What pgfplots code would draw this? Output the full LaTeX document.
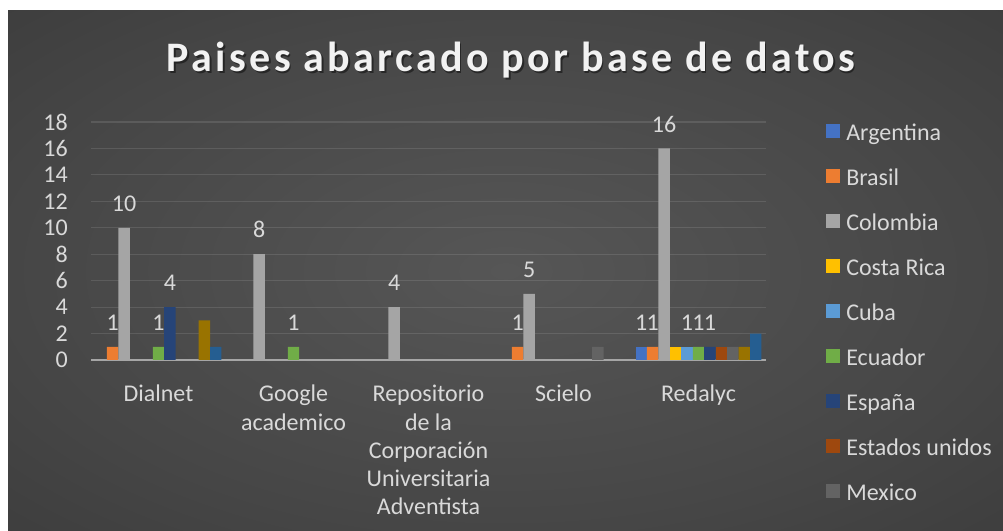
\documentclass[border=0pt]{standalone}
\usepackage{pgfplots}
\pgfplotsset{compat=1.18}
\usepackage{fontspec}
\setmainfont{Carlito}
\newfontfamily\titlefont[LetterSpace=8]{Carlito}
\definecolor{bgin}{RGB}{86,86,86}
\definecolor{bgmid}{RGB}{70,70,70}
\definecolor{bgout}{RGB}{36,36,36}
\definecolor{txt}{RGB}{217,217,217}
\definecolor{axl}{RGB}{166,166,166}
\definecolor{cArg}{HTML}{4472C4}
\definecolor{cBra}{HTML}{ED7D31}
\definecolor{cCol}{HTML}{A5A5A5}
\definecolor{cCR}{HTML}{FFC000}
\definecolor{cCub}{HTML}{5B9BD5}
\definecolor{cEcu}{HTML}{70AD47}
\definecolor{cEsp}{HTML}{264478}
\definecolor{cEEU}{HTML}{9E480E}
\definecolor{cMex}{HTML}{636363}
\definecolor{cS10}{HTML}{997300}
\definecolor{cS11}{HTML}{255E91}
\pgfdeclareradialshading{bgshade}{\pgfpoint{0bp}{0bp}}{color(0bp)=(bgin); color(25bp)=(bgmid); color(71bp)=(bgout)}
\begin{document}
\begin{tikzpicture}[x=1bp,y=1bp]
\useasboundingbox (0,0) rectangle (1003,531);
\fill[white] (0,0) rectangle (1003,531);
\shade[shading=bgshade] (8,0) rectangle (1003,520);
\node[anchor=base, font=\titlefont\bfseries\fontsize{42bp}{50bp}\selectfont, text=black, opacity=0.45] at (512.5bp,457.5bp) {Paises abarcado por base de datos};
\node[anchor=base, font=\titlefont\bfseries\fontsize{42bp}{50bp}\selectfont, text=white!95!black] at (511bp,459bp) {Paises abarcado por base de datos};
\begin{axis}[
  at={(91bp,171bp)}, anchor=south west, scale only axis,
  width=675bp, height=238bp,
  xmin=-0.5, xmax=4.5, ymin=0, ymax=18,
  ytick={0,2,...,18}, xtick={0,1,2,3,4},
  xticklabels={Dialnet, {Google\\academico}, {Repositorio\\de la\\Corporación\\Universitaria\\Adventista}, Scielo, Redalyc},
  /pgf/number format/assume math mode=true,
  ybar=0pt, bar width=11.45bp,
  axis lines*=left,
  x axis line style={draw=axl, line width=1.8bp, -},
  y axis line style={draw=none},
  major tick length=0pt,
  ymajorgrids, grid style={draw=white, opacity=0.11, line width=1.2bp},
  ticklabel style={font=\fontsize{24bp}{28.3bp}\selectfont, text=txt, inner sep=0pt},
  xticklabel style={align=center, anchor=north, yshift=-25bp},
  yticklabel style={anchor=east, xshift=-23bp},
  clip=false,
  legend style={at={(1.089,0.993)}, anchor=north west, draw=none, fill=none, inner sep=0pt,
    cells={anchor=west}, row sep=22.95bp,
    nodes={inner sep=0pt, text height=17bp, text depth=5bp, font=\fontsize{24bp}{28bp}\selectfont, text=txt}},
  legend image code/.code={\fill[#1] (0bp,-3.5bp) rectangle (14bp,10.5bp); \path (20bp,0bp);},
  every node near coord/.append style={font=\fontsize{24bp}{28bp}\selectfont, text=txt, anchor=south, inner sep=0pt, yshift=16bp},
]
\addplot[fill=cArg, draw=none, bar shift=-5*11.45bp, nodes near coords] coordinates {(4,1)};
\addlegendentry{Argentina}
\addplot[fill=cBra, draw=none, bar shift=-4*11.45bp, nodes near coords] coordinates {(0,1) (3,1) (4,1)};
\addlegendentry{Brasil}
\addplot[fill=cCol, draw=none, bar shift=-3*11.45bp, nodes near coords] coordinates {(0,10) (1,8) (2,4) (3,5) (4,16)};
\addlegendentry{Colombia}
\addplot[fill=cCR, draw=none, bar shift=-2*11.45bp] coordinates {(4,1)};
\addlegendentry{Costa Rica}
\addplot[fill=cCub, draw=none, bar shift=-1*11.45bp, nodes near coords] coordinates {(4,1)};
\addlegendentry{Cuba}
\addplot[fill=cEcu, draw=none, bar shift=0bp, nodes near coords] coordinates {(0,1) (1,1) (4,1)};
\addlegendentry{Ecuador}
\addplot[fill=cEsp, draw=none, bar shift=1*11.45bp, nodes near coords] coordinates {(0,4) (4,1)};
\addlegendentry{España}
\addplot[fill=cEEU, draw=none, bar shift=2*11.45bp] coordinates {(4,1)};
\addlegendentry{Estados unidos}
\addplot[fill=cMex, draw=none, bar shift=3*11.45bp] coordinates {(3,1) (4,1)};
\addlegendentry{Mexico}
\addplot[fill=cS10, draw=none, bar shift=4*11.45bp, forget plot] coordinates {(0,3) (4,1)};
\addplot[fill=cS11, draw=none, bar shift=5*11.45bp, forget plot] coordinates {(0,1) (4,2)};
\end{axis}
\end{tikzpicture}
\end{document}
